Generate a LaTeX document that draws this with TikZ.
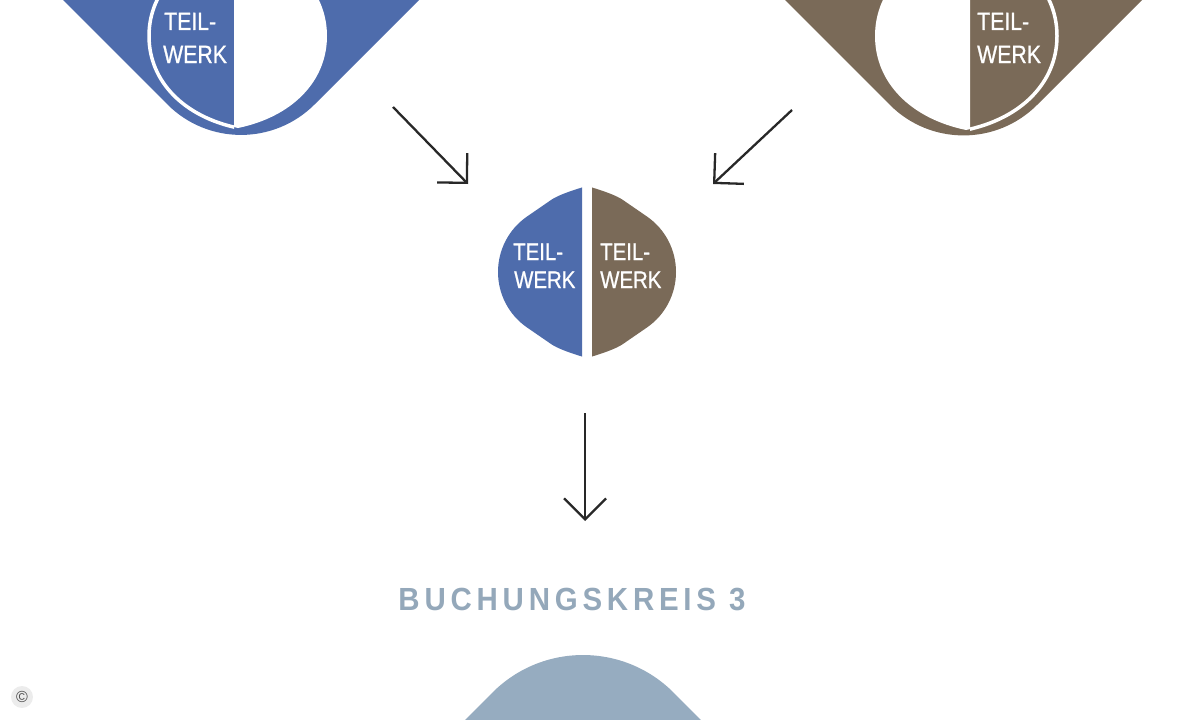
\documentclass[tikz,border=0pt]{standalone}
\usepackage{fontspec}
\setmainfont{Liberation Sans}
\newfontfamily\condfont[FakeStretch=0.85,FakeBold=0.8]{Liberation Sans}
\newfontfamily\titlefont[FakeStretch=0.92,LetterSpace=15]{Liberation Sans}
\usetikzlibrary{arrows.meta}
\definecolor{cblue}{RGB}{78,108,172}
\definecolor{cbrown}{RGB}{122,106,88}
\definecolor{cgray}{RGB}{150,172,192}
\definecolor{ctitle}{RGB}{148,168,186}
\definecolor{carrow}{RGB}{40,40,40}
% round lens-like shape: centre x, centre y, half width, half height
\newcommand\rdshape[4]{({#1-#3},{#2}) .. controls ({#1-#3},{#2+0.5*#4}) and ({#1-0.6*#3},{#2+0.88*#4}) .. ({#1},{#2+#4}) .. controls ({#1+0.6*#3},{#2+0.88*#4}) and ({#1+#3},{#2+0.5*#4}) .. ({#1+#3},{#2}) .. controls ({#1+#3},{#2-0.5*#4}) and ({#1+0.6*#3},{#2-0.88*#4}) .. ({#1},{#2-#4}) .. controls ({#1-0.6*#3},{#2-0.88*#4}) and ({#1-#3},{#2-0.5*#4}) .. cycle}
% rounded rhombus of unit half size (scaled by the path options)
\newcommand\rhshape{(0,-1) .. controls (-0.2,-0.94) and (-0.333,-0.887) .. (-0.40,-0.84) -- (-0.678,-0.642) .. controls (-0.881,-0.495) and (-1,-0.255) .. (-1,0) .. controls (-1,0.255) and (-0.881,0.495) .. (-0.678,0.642) -- (-0.40,0.84) .. controls (-0.333,0.887) and (-0.2,0.94) .. (0,1) .. controls (0.2,0.94) and (0.333,0.887) .. (0.40,0.84) -- (0.678,0.642) .. controls (0.881,0.495) and (1,0.255) .. (1,0) .. controls (1,-0.255) and (0.881,-0.495) .. (0.678,-0.642) -- (0.40,-0.84) .. controls (0.333,-0.887) and (0.2,-0.94) .. cycle}
\tikzset{
  lbl/.style={anchor=base west, inner sep=0pt, text=white},
  biglbl/.style={lbl, font=\condfont\fontsize{25}{25}\selectfont},
  midlbl/.style={lbl, font=\condfont\fontsize{24}{24}\selectfont},
  arr/.style={draw=carrow, line width=2.3pt, -{Straight Barb[length=21pt,width=42pt]}},
  ring/.style={draw=white, line width=3.5pt}
}
\begin{document}
\begin{tikzpicture}[x=1pt,y=-1pt]
\useasboundingbox (0,0) rectangle (1200,720);
\clip (0,0) rectangle (1200,720);
\fill[white] (0,0) rectangle (1200,720);

% top-left blue shape
\fill[cblue, rounded corners=104pt] (-37,-100) -- (241,178) -- (519,-100) -- cycle;
\begin{scope}
  \clip (0,-200) rectangle (234,400);
  \draw[ring] \rdshape{238}{36}{89}{92};
\end{scope}
\begin{scope}
  \clip (234,-200) rectangle (600,400);
  \fill[white] \rdshape{238}{36}{89}{92};
\end{scope}
\node[biglbl] (tl1) at (164,30) {TEIL-};
\node[biglbl] (tl2) at (163,63) {WERK};

% top-right brown shape
\fill[cbrown, rounded corners=104pt] (685,-100) -- (963.5,178.5) -- (1242,-100) -- cycle;
\begin{scope}
  \clip (600,-200) rectangle (970,400);
  \fill[white] \rdshape{966}{36}{91}{94};
\end{scope}
\begin{scope}
  \clip (970,-200) rectangle (1200,400);
  \draw[ring] \rdshape{966}{36}{91}{94};
\end{scope}
\node[biglbl] (tr1) at (977,30) {TEIL-};
\node[biglbl] (tr2) at (977,63) {WERK};

% middle combined shape
\begin{scope}
  \clip (400,150) rectangle (582,400);
  \fill[cblue, shift={(587,272)}, xscale=89, yscale=86] \rhshape;
\end{scope}
\begin{scope}
  \clip (592,150) rectangle (800,400);
  \fill[cbrown, shift={(587,272)}, xscale=89, yscale=86] \rhshape;
\end{scope}
\node[midlbl] (m1) at (513,260) {TEIL-};
\node[midlbl] (m2) at (514,288) {WERK};
\node[midlbl] (m3) at (600,260) {TEIL-};
\node[midlbl] (m4) at (600,288) {WERK};

% arrows
\coordinate (a1s) at (393,107); \coordinate (a1e) at (468,184);
\coordinate (a2s) at (792,110); \coordinate (a2e) at (713,184);
\coordinate (a3s) at (585,413); \coordinate (a3e) at (585,521);
\draw[arr] (a1s) -- (a1e);
\draw[arr] (a2s) -- (a2e);
\draw[arr] (a3s) -- (a3e);

% title
\node[anchor=base, inner sep=0pt, text=ctitle, font=\titlefont\bfseries\fontsize{32}{32}\selectfont] (title) at (572,610) {BUCHUNGSKREIS 3};

% bottom shape
\fill[cgray, rounded corners=128pt] (365,820) -- (583,602) -- (801,820) -- cycle;

% copyright mark
\node[circle, fill=gray!15, inner sep=2pt, text=gray!60!black, font=\fontsize{16}{16}\selectfont] (copy) at (22,697) {\textcopyright};
\end{tikzpicture}
\end{document}
